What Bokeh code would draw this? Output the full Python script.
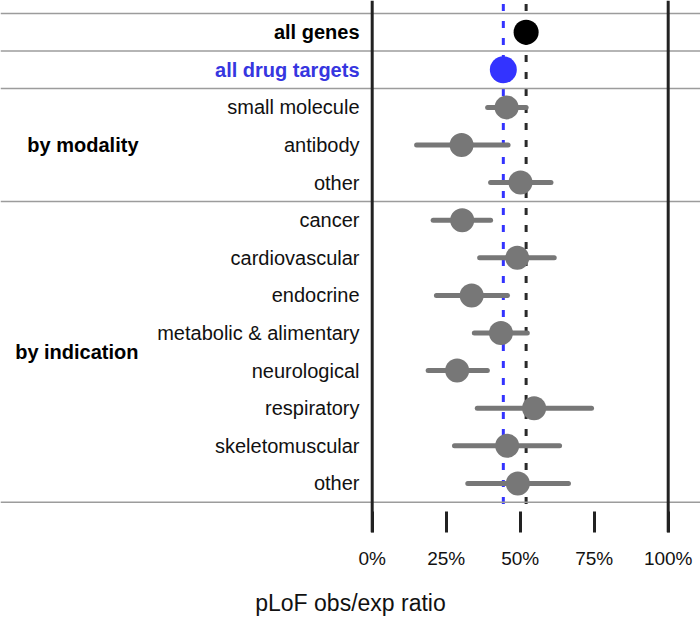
import numpy as np
from bokeh.plotting import figure
from bokeh.models import ColumnDataSource, Range1d, Span, FixedTicker, NumeralTickFormatter
from bokeh.core.properties import value
from bokeh.embed import file_html
from bokeh.resources import INLINE

# ---------------- data ----------------
row_labels = ["all genes", "all drug targets", "small molecule", "antibody", "other",
              "cancer", "cardiovascular", "endocrine", "metabolic & alimentary",
              "neurological", "respiratory", "skeletomuscular", "other"]
ratio_mean = [0.520, 0.443, 0.454, 0.302, 0.501, 0.304, 0.490, 0.336, 0.435,
              0.287, 0.547, 0.456, 0.492]
ratio_lower = [np.nan, np.nan, 0.390, 0.150, 0.400, 0.206, 0.363, 0.217, 0.345,
               0.189, 0.355, 0.278, 0.323]
ratio_upper = [np.nan, np.nan, 0.520, 0.459, 0.604, 0.400, 0.615, 0.457, 0.524,
               0.389, 0.741, 0.633, 0.663]
group_names = ["", "", "by modality", "by indication"]
group_sizes = [1, 1, 3, 8]
tick_values = [0, 0.25, 0.5, 0.75, 1.0]
x_title = "pLoF obs/exp ratio"

# ---------------- styles ----------------
FONT = "Liberation Sans"
BLUE_PT = "#3333FF"
BLUE_TXT = "#3636E0"
GREY = "#777777"

n = len(row_labels)
rows = list(range(n))
point_colors = ["#000000", BLUE_PT] + [GREY] * (n - 2)
point_sizes = [25, 27] + [24] * (n - 2)
text_colors = ["#000000", BLUE_TXT] + ["#111111"] * (n - 2)
text_styles = ["bold", "bold"] + ["normal"] * (n - 2)

# layout (pixels)
FRAME_W, FRAME_H = 700, 532
ZERO_PX, PX_PER_UNIT = 371.7, 296.0
ROW0_PX, ROW_PITCH = 31.7, 37.6

x_range = Range1d(-ZERO_PX / PX_PER_UNIT, (FRAME_W - ZERO_PX) / PX_PER_UNIT)
y_range = Range1d((FRAME_H - ROW0_PX) / ROW_PITCH, -ROW0_PX / ROW_PITCH)

p = figure(frame_width=FRAME_W, frame_height=FRAME_H, x_range=x_range, y_range=y_range,
           output_backend="svg", toolbar_location=None, min_border=0,
           x_axis_location="below", y_axis_location=None)
p.outline_line_color = None
p.xgrid.visible = False
p.ygrid.visible = False
p.background_fill_color = "white"
p.border_fill_color = "white"

# group separators
bounds = np.cumsum([0] + group_sizes) - 0.5
for b in bounds:
    p.add_layout(Span(location=float(b), dimension="width", line_color="#9c9c9c", line_width=1.5))

# 0% and 100% frame lines
for v in (tick_values[0], tick_values[-1]):
    p.add_layout(Span(location=v, dimension="height", line_color="#222222", line_width=3))

# reference dashed lines (all genes, all drug targets)
dash_top = y_range.end + 0.7 / ROW_PITCH * 5
dash_bottom = bounds[-1] + 0.17
p.segment(x0=[ratio_mean[0], ratio_mean[1]], y0=[dash_top, dash_top],
          x1=[ratio_mean[0], ratio_mean[1]], y1=[dash_bottom, dash_bottom],
          line_color=["#2a2a2a", BLUE_PT], line_width=3, line_dash="7 10")

# error bars
src = ColumnDataSource(dict(y=rows, m=ratio_mean, lo=ratio_lower, hi=ratio_upper,
                            c=point_colors, s=point_sizes, lab=row_labels,
                            tc=text_colors, ts=text_styles))
p.segment(x0="lo", y0="y", x1="hi", y1="y", source=src, line_color=GREY,
          line_width=5, line_cap="round")
p.scatter(x="m", y="y", size="s", fill_color="c", line_color=None, source=src)

# row labels
p.text(x=0, y="y", text="lab", source=src, x_offset=-12.7, text_align="right",
       text_baseline="middle", text_font=value(FONT), text_font_size="20px",
       text_color="tc", text_font_style="ts")

# group labels
g_centers, g_text = [], []
start = 0
for name, size in zip(group_names, group_sizes):
    if name:
        g_centers.append(start + (size - 1) / 2)
        g_text.append(name)
    start += size
p.text(x=0, y=g_centers, text=g_text, x_offset=-233.7, text_align="right",
       text_baseline="middle", text_font=value(FONT), text_font_size="20px",
       text_font_style="bold", text_color="#000000")

# x axis
ax = p.xaxis[0]
ax.ticker = FixedTicker(ticks=tick_values)
ax.formatter = NumeralTickFormatter(format="0%")
ax.axis_line_color = None
ax.major_tick_in = 21
ax.major_tick_out = 0
ax.major_tick_line_width = 3
ax.major_tick_line_color = "#222222"
ax.minor_tick_line_color = None
ax.major_label_text_font = FONT
ax.major_label_text_font_size = "19px"
ax.major_label_text_color = "#111111"
ax.major_label_standoff = 15
ax.axis_label = x_title
ax.axis_label_text_font = FONT
ax.axis_label_text_font_size = "23px"
ax.axis_label_text_font_style = "normal"
ax.axis_label_text_color = "#111111"
ax.axis_label_standoff = 18

open("out.html", "w").write(file_html(p, INLINE))
